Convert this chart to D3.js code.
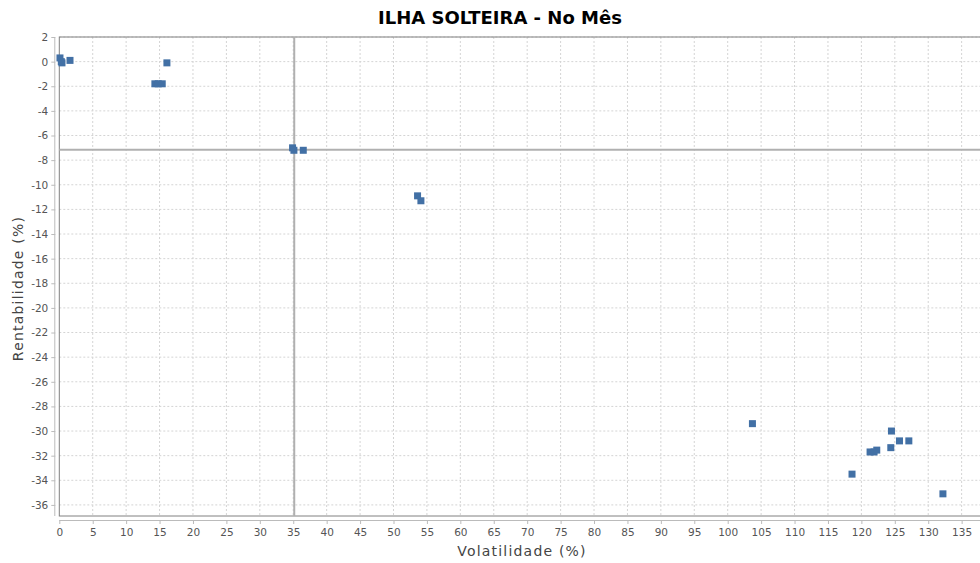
<!DOCTYPE html>
<html>
<head>
<meta charset="utf-8">
<script src="https://cdn.jsdelivr.net/npm/d3@7"></script>
<style>
  body { margin: 0; background: #fff; }
  svg text { font-family: "DejaVu Sans", Verdana, sans-serif; }
  .grid line { stroke: #d4d4d4; stroke-dasharray: 2,2; stroke-width: 1; }
  .tick text { fill: #555; font-size: 10.5px; }
</style>
</head>
<body>
<svg width="980" height="563"></svg>
<script>
const volatilidade = [0.1, 0.3, 0.4, 1.6, 16.1, 14.3, 14.8, 15.4,
    34.9, 35.1, 36.5, 53.6, 54.1,
    103.7, 124.5, 125.7, 127.1, 124.4, 121.3, 121.9, 122.3, 118.6, 132.2];
const rentabilidade = [0.3, 0.0, -0.1, 0.1, -0.1, -1.8, -1.8, -1.8,
    -7.0, -7.2, -7.2, -10.9, -11.3,
    -29.4, -30.0, -30.8, -30.8, -31.35, -31.7, -31.7, -31.55, -33.5, -35.1];
const mediaVol = 35.15;
const mediaRent = -7.15;
const xTicks = d3.range(0, 136, 5);
const yTicks = d3.range(-36, 3, 2);

const svg = d3.select("svg");
const pLeft = 59.3, pRight = 982, pTop = 37, pBottom = 516;

const x = d3.scaleLinear().domain([0, 138]).range([pLeft, pLeft + 138 * 6.684]);
const y = d3.scaleLinear().domain([2, -36.9]).range([pTop, pBottom]);

// grid
const grid = svg.append("g").attr("class", "grid");
grid.selectAll(".gx").data(xTicks.slice(1)).enter().append("line")
    .attr("x1", d => x(d)).attr("x2", d => x(d))
    .attr("y1", pTop).attr("y2", pBottom);
grid.selectAll(".gy").data(yTicks).enter().append("line")
    .attr("x1", pLeft).attr("x2", pRight)
    .attr("y1", d => y(d)).attr("y2", d => y(d));

// plot outline
svg.append("rect")
    .attr("x", pLeft).attr("y", pTop)
    .attr("width", pRight - pLeft).attr("height", pBottom - pTop)
    .attr("fill", "none").attr("stroke", "#808080").attr("stroke-width", 1);

// crosshair (media)
svg.append("line")
    .attr("x1", x(mediaVol)).attr("x2", x(mediaVol))
    .attr("y1", pTop).attr("y2", pBottom)
    .attr("stroke", "#b0b0b0").attr("stroke-width", 2);
svg.append("line")
    .attr("x1", pLeft).attr("x2", pRight)
    .attr("y1", y(mediaRent)).attr("y2", y(mediaRent))
    .attr("stroke", "#b0b0b0").attr("stroke-width", 2);

// points
svg.append("g").selectAll("rect")
    .data(volatilidade.map((v, i) => [v, rentabilidade[i]]))
    .enter().append("rect")
    .attr("x", d => x(d[0]) - 3.5)
    .attr("y", d => y(d[1]) - 3.5)
    .attr("width", 7).attr("height", 7)
    .attr("fill", "#4270a5");

// axes
const xAxis = d3.axisBottom(x).tickValues(xTicks).tickSize(4).tickPadding(3).tickFormat(d3.format("d"));
const gx = svg.append("g").attr("transform", `translate(0,${pBottom + 4})`).call(xAxis);
gx.select(".domain").attr("stroke", "#bbb").attr("d", `M${pLeft},0.5H${pRight}`);
gx.selectAll(".tick line").attr("stroke", "#bbb");

const yAxis = d3.axisLeft(y).tickValues(yTicks).tickSize(4).tickPadding(3).tickFormat(d3.format("d"));
const gy = svg.append("g").attr("transform", `translate(${pLeft - 4},0)`).call(yAxis);
gy.select(".domain").attr("stroke", "#bbb").attr("d", `M-0.5,${pTop}V${pBottom}`);
gy.selectAll(".tick line").attr("stroke", "#bbb");
gy.selectAll(".tick text").text(d => String(d));
gx.selectAll(".tick text").attr("dy", "0.9em");

// title and labels
svg.append("text")
    .attr("x", 500).attr("y", 24)
    .attr("text-anchor", "middle")
    .attr("font-size", "18px").attr("font-weight", "bold").attr("fill", "#000")
    .text("ILHA SOLTEIRA - No Mês");

svg.append("text")
    .attr("x", 522).attr("y", 556)
    .attr("text-anchor", "middle")
    .attr("font-size", "14px").attr("fill", "#444")
    .attr("letter-spacing", "1.2px")
    .text("Volatilidade (%)");

svg.append("text")
    .attr("transform", `translate(23,${(pTop + pBottom) / 2 + 12}) rotate(-90)`)
    .attr("text-anchor", "middle")
    .attr("font-size", "14px").attr("fill", "#444")
    .attr("letter-spacing", "1.2px")
    .text("Rentabilidade (%)");
</script>
</body>
</html>
